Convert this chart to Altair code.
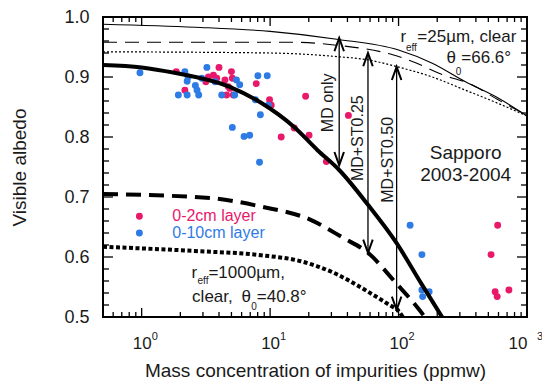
import altair as alt
import pandas as pd

# ---------------- data ----------------
pink_x = [1.86, 2.17, 3.16, 3.31, 3.62, 3.84, 4.0, 4.45, 5.0, 5.08, 4.72, 4.86, 4.58, 5.17,
          7.8, 9.9, 10.2, 12.2, 15.4, 18.9, 20.1, 27.4, 40.7, 525, 591, 565, 586, 723]
pink_y = [0.909, 0.878, 0.892, 0.900, 0.903, 0.898, 0.916, 0.895, 0.909, 0.898, 0.884, 0.881, 0.870, 0.870,
          0.889, 0.862, 0.853, 0.800, 0.815, 0.868, 0.803, 0.759, 0.836, 0.604, 0.653, 0.542, 0.534, 0.545]

blue_x = [0.97, 1.93, 2.17, 2.26, 2.3, 2.26, 2.62, 2.7, 2.78, 2.94, 3.22, 3.73, 4.2, 5.3, 5.47, 5.8,
          5.08, 6.27, 6.93, 7.68, 8.03, 9.5, 8.4, 9.7, 8.27, 123, 152, 152, 173, 154]
blue_y = [0.907, 0.870, 0.909, 0.893, 0.900, 0.870, 0.886, 0.878, 0.870, 0.898, 0.916, 0.892, 0.870, 0.870, 0.895, 0.887,
          0.816, 0.801, 0.803, 0.862, 0.902, 0.902, 0.837, 0.853, 0.758, 0.653, 0.604, 0.545, 0.542, 0.534]

thin_solid_x = [0.5, 2.6, 10, 33, 100, 183, 332, 596, 1000]
thin_solid_y = [0.988, 0.983, 0.976, 0.963, 0.945, 0.923, 0.892, 0.865, 0.835]
thin_dashed_x = [0.5, 15, 33, 90, 128, 219, 373, 596, 1000]
thin_dashed_y = [0.958, 0.958, 0.953, 0.937, 0.926, 0.904, 0.887, 0.862, 0.836]
thin_dotted_x = [0.5, 10, 33, 60, 90, 183, 332, 596, 1000]
thin_dotted_y = [0.942, 0.940, 0.934, 0.928, 0.919, 0.900, 0.878, 0.856, 0.835]

thick_solid_x = [0.5, 1, 1.8, 4.8, 8.5, 15.3, 23.4, 34.5, 57.8, 96.6, 150, 218]
thick_solid_y = [0.920, 0.916, 0.907, 0.884, 0.857, 0.817, 0.778, 0.745, 0.687, 0.623, 0.556, 0.5]
thick_dashed_x = [0.5, 3.5, 8.5, 20.7, 37, 57.8, 96, 145, 160]
thick_dashed_y = [0.705, 0.698, 0.684, 0.662, 0.632, 0.607, 0.556, 0.512, 0.5]
thick_dotted_x = [0.5, 2.6, 8.5, 17.3, 31, 57, 85, 100, 108]
thick_dotted_y = [0.617, 0.610, 0.603, 0.593, 0.574, 0.543, 0.520, 0.510, 0.5]

arrow_x = [34.5, 57.8, 96.6]
arrow_top = [0.965, 0.940, 0.917]
arrow_bottom = [0.753, 0.607, 0.512]
arrow_labels = ["MD only", "MD+ST0.25", "MD+ST0.50"]
arrow_label_x = [28.4, 48.4, 82.3]
arrow_label_y = [0.857, 0.798, 0.762]

x_tick_values = [1, 10, 100, 1000]
x_tick_base = ["10", "10", "10", "10"]
x_tick_exp = ["0", "1", "2", "3"]
x_minor = [0.6, 0.7, 0.8, 0.9] + [m * d for d in (1, 10, 100) for m in range(2, 10)]
y_tick_values = [0.5, 0.6, 0.7, 0.8, 0.9, 1.0]
y_minor = [round(0.5 + 0.02 * i, 2) for i in range(26) if i % 5 != 0]

legend_labels = ["0-2cm layer", "0-10cm layer"]
legend_colors = ["#e8196a", "#2f7be6"]
legend_y = [0.668, 0.640]

main_text = ["r", "=25µm, clear", "θ", "=66.6°", "r", "=1000µm,", "clear,", "θ", "=40.8°"]
main_text_x = [103.6, 140, 236, 308, 2.446, 3.31, 2.47, 5.98, 7.87]
main_text_y = [0.959, 0.959, 0.923, 0.923, 0.5645, 0.5645, 0.5255, 0.5255, 0.5255]
sub_text = ["eff", "0", "eff", "0"]
sub_text_x = [114.2, 279, 2.72, 7.14]
sub_text_y = [0.944, 0.903, 0.555, 0.5117]
site_text = ["Sapporo", "2003-2004"]
site_x = [333, 333]
site_y = [0.773, 0.737]

# ---------------- layout ----------------
W, H = 424, 300
FONT = "Liberation Sans"
INK = "#1a1a1a"

label_expr = " : ".join(
    f"datum.value == {v} ? '{t}'" for v, t in zip(x_tick_values, x_tick_base)
) + " : ''"

xs = alt.Scale(type="log", domain=[0.5, 1000], nice=False)
ys = alt.Scale(domain=[0.5, 1.0], nice=False, zero=False)
xaxis = alt.Axis(values=x_tick_values, labelExpr=label_expr, ticks=False, domain=False, grid=False,
                 labelPadding=18, labelFontSize=17, titleFontSize=19, titleFontWeight="normal",
                 titlePadding=10, labelColor=INK, titleColor=INK, labelFont=FONT, titleFont=FONT)
yaxis = alt.Axis(values=y_tick_values, format=".1f", ticks=False, domain=False, grid=False,
                 labelPadding=14, labelFontSize=18, titleFontSize=19, titleFontWeight="normal",
                 titlePadding=34, labelColor=INK, titleColor=INK, labelFont=FONT, titleFont=FONT)


def X(field="x"):
    return alt.X(f"{field}:Q", scale=xs, axis=xaxis, title="Mass concentration of impurities (ppmw)")


def Y(field="y"):
    return alt.Y(f"{field}:Q", scale=ys, axis=yaxis, title="Visible albedo")


def df(**cols):
    return pd.DataFrame(cols)


layers = []

# scatter
pts = pd.concat([
    df(x=pink_x, y=pink_y, g=legend_labels[0]),
    df(x=blue_x, y=blue_y, g=legend_labels[1]),
])
cscale = alt.Scale(domain=legend_labels, range=legend_colors)
layers.append(alt.Chart(pts).mark_circle(size=48, opacity=1).encode(
    x=X(), y=Y(), color=alt.Color("g:N", scale=cscale, legend=None)))

# curves
def line(xv, yv, width, dash=None):
    kw = dict(color="black", strokeWidth=width, clip=True, interpolate="monotone")
    if dash:
        kw["strokeDash"] = dash
    return alt.Chart(df(x=xv, y=yv)).mark_line(**kw).encode(x=X(), y=Y())

layers += [
    line(thin_solid_x, thin_solid_y, 1.1),
    line(thin_dashed_x, thin_dashed_y, 1.1, [14, 8]),
    line(thin_dotted_x, thin_dotted_y, 1.2, [2, 2]),
    line(thick_solid_x, thick_solid_y, 4),
    line(thick_dashed_x, thick_dashed_y, 4, [15, 8]),
    line(thick_dotted_x, thick_dotted_y, 4, [4, 2.5]),
]

# arrows
arr = df(x=arrow_x, top=arrow_top, bottom=arrow_bottom)
layers.append(alt.Chart(arr).mark_rule(color="black", strokeWidth=1.3).encode(
    x=X(), y=Y("top"), y2="bottom:Q"))
layers.append(alt.Chart(arr).mark_point(shape="M-0.36,1 L0,0 L0.36,1", size=700, filled=False,
                                        color="black", strokeWidth=2, opacity=1).encode(x=X(), y=Y("top")))
layers.append(alt.Chart(arr).mark_point(shape="M-0.36,-1 L0,0 L0.36,-1", size=700, filled=False,
                                        color="black", strokeWidth=2, opacity=1).encode(x=X(), y=Y("bottom")))
layers.append(alt.Chart(df(x=arrow_label_x, y=arrow_label_y, t=arrow_labels)).mark_text(
    angle=270, fontSize=16, font=FONT, color=INK, align="center", baseline="middle").encode(
    x=X(), y=Y(), text="t:N"))

# annotation text
layers.append(alt.Chart(df(x=main_text_x, y=main_text_y, t=main_text)).mark_text(
    fontSize=17, font=FONT, color=INK, align="left", baseline="alphabetic").encode(x=X(), y=Y(), text="t:N"))
layers.append(alt.Chart(df(x=sub_text_x, y=sub_text_y, t=sub_text)).mark_text(
    fontSize=10, font=FONT, color=INK, align="left", baseline="alphabetic").encode(x=X(), y=Y(), text="t:N"))
layers.append(alt.Chart(df(x=site_x, y=site_y, t=site_text)).mark_text(
    fontSize=19, font=FONT, color=INK, align="center", baseline="middle").encode(x=X(), y=Y(), text="t:N"))

# x tick-label exponents (superscripts next to the axis labels "10")
layers.append(alt.Chart(df(x=x_tick_values, t=x_tick_exp)).mark_text(
    fontSize=11, font=FONT, color=INK, align="left", baseline="middle", dx=10).encode(
    x=X(), y=alt.value(H + 20), text="t:N"))

# legend (manual)
leg = df(x=[0.96, 0.96], xt=[1.73, 1.73], y=legend_y, t=legend_labels)
layers.append(alt.Chart(leg).mark_circle(size=48, opacity=1).encode(
    x=X(), y=Y(), color=alt.Color("t:N", scale=cscale, legend=None)))
layers.append(alt.Chart(leg).mark_text(fontSize=16, font=FONT, align="left", baseline="middle").encode(
    x=X("xt"), y=Y(), text="t:N", color=alt.Color("t:N", scale=cscale, legend=None)))

# inward ticks on all four sides
def xticks(vals, length):
    d = df(x=vals)
    b = alt.Chart(d).mark_rule(color="black", strokeWidth=1.3).encode(
        x=X(), y=alt.value(H), y2=alt.value(H - length))
    t = alt.Chart(d).mark_rule(color="black", strokeWidth=1.3).encode(
        x=X(), y=alt.value(0), y2=alt.value(length))
    return [b, t]


def yticks(vals, length):
    d = df(y=vals)
    l = alt.Chart(d).mark_rule(color="black", strokeWidth=1.3).encode(
        y=Y(), x=alt.value(0), x2=alt.value(length))
    r = alt.Chart(d).mark_rule(color="black", strokeWidth=1.3).encode(
        y=Y(), x=alt.value(W), x2=alt.value(W - length))
    return [l, r]

layers += xticks(x_tick_values, 9) + xticks(x_minor, 5) + yticks(y_tick_values, 10) + yticks(y_minor, 6)

chart = alt.layer(*layers).properties(
    width=W, height=H,
    autosize=alt.AutoSizeParams(type="none"),
    padding={"left": 95, "top": 9, "right": 15, "bottom": 70},
    background="white",
).configure_view(stroke="black", strokeWidth=2)

chart.save("out.html", embed_options={"renderer": "svg", "actions": False})
